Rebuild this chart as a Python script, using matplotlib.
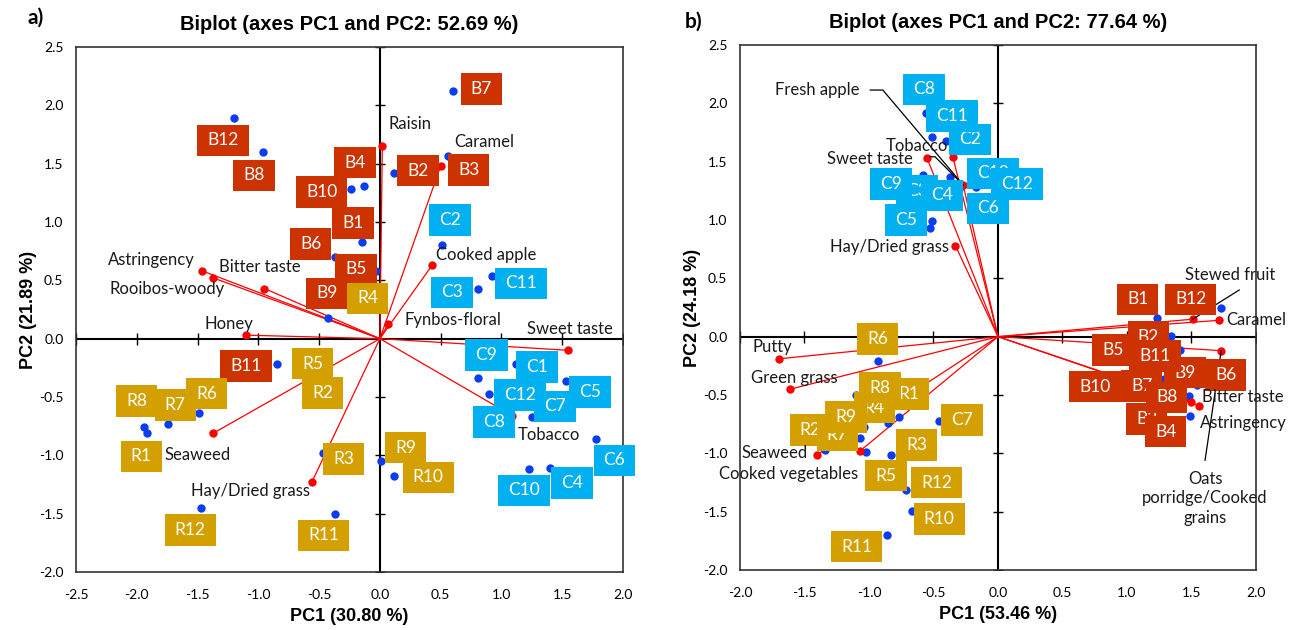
import matplotlib
matplotlib.use('Agg')
import matplotlib.pyplot as plt
from matplotlib.path import Path

# ------------------------------------------------------------------ data
# panel a) observations
obs_names_a = ['B1', 'B2', 'B3', 'B4', 'B5', 'B6', 'B7', 'B8', 'B9', 'B10', 'B11', 'B12',
               'C1', 'C2', 'C3', 'C4', 'C5', 'C6', 'C7', 'C8', 'C9', 'C10', 'C11', 'C12',
               'R1', 'R2', 'R3', 'R4', 'R5', 'R6', 'R7', 'R8', 'R9', 'R10', 'R11', 'R12']
obs_pc1_a = [-0.15, 0.12, 0.56, -0.13, -0.03, -0.37, 0.60, -0.96, -0.43, -0.24, -0.85, -1.20,
             1.12, 0.51, 0.81, 1.40, 1.53, 1.78, 1.25, 0.98, 0.81, 1.23, 0.92, 0.90,
             -1.92, -0.45, -0.47, -0.08, -0.50, -1.49, -1.74, -1.94, 0.01, 0.12, -0.37, -1.47]
obs_pc2_a = [0.83, 1.42, 1.57, 1.31, 0.58, 0.70, 2.12, 1.60, 0.18, 1.28, -0.22, 1.89,
             -0.22, 0.80, 0.43, -1.11, -0.36, -0.86, -0.67, -0.63, -0.34, -1.12, 0.54, -0.47,
             -0.81, -0.45, -0.98, 0.33, -0.22, -0.64, -0.73, -0.76, -1.05, -1.18, -1.50, -1.45]
# panel a) variables
var_names_a = ['Astringency', 'Rooibos-woody', 'Bitter taste', 'Honey', 'Raisin', 'Caramel',
               'Cooked apple', 'Fynbos-floral', 'Sweet taste', 'Tobacco', 'Seaweed',
               'Hay/Dried grass']
var_pc1_a = [-1.46, -1.37, -0.95, -1.10, 0.02, 0.50, 0.43, 0.07, 1.55, 1.09, -1.37, -0.56]
var_pc2_a = [0.58, 0.52, 0.43, 0.03, 1.65, 1.48, 0.63, 0.13, -0.10, -0.66, -0.81, -1.23]

# panel b) observations
obs_names_b = ['B1', 'B2', 'B3', 'B4', 'B5', 'B6', 'B7', 'B8', 'B9', 'B10', 'B11', 'B12',
               'C2', 'C3', 'C4', 'C5', 'C6', 'C7', 'C8', 'C9', 'C10', 'C11', 'C12',
               'R1', 'R2', 'R3', 'R4', 'R5', 'R6', 'R7', 'R8', 'R9', 'R10', 'R11', 'R12']
obs_group_b = ['B'] * 12 + ['C', 'C', 'C', 'C', 'C', 'R', 'C', 'C', 'C', 'C', 'C'] + ['R'] * 12
obs_pc1_b = [1.23, 1.34, 1.20, 1.49, 1.05, 1.62, 1.29, 1.48, 1.54, 0.95, 1.41, 1.73,
             -0.40, -0.53, -0.37, -0.51, -0.30, -0.46, -0.56, -0.58, -0.17, -0.51, 0.05,
             -0.77, -1.34, -0.83, -0.85, -1.02, -0.93, -1.07, -1.10, -1.04, -0.67, -0.86, -0.71]
obs_pc2_b = [0.16, 0.01, -0.62, -0.68, -0.10, -0.33, -0.36, -0.51, -0.41, -0.35, -0.11, 0.25,
             1.68, 0.93, 1.37, 0.99, 1.27, -0.72, 1.92, 1.39, 1.28, 1.71, 1.35,
             -0.69, -0.97, -1.01, -0.74, -0.99, -0.21, -0.87, -0.50, -0.77, -1.49, -1.70, -1.31]
# panel b) variables
var_names_b = ['Putty', 'Green grass', 'Seaweed', 'Cooked vegetables', 'Hay/Dried grass',
               'Sweet taste', 'Tobacco', 'Fresh apple', 'Stewed fruit', 'Caramel',
               'Oats\nporridge/Cooked\ngrains', 'Bitter taste', 'Astringency']
var_pc1_b = [-1.70, -1.61, -1.40, -1.07, -0.33, -0.55, -0.35, -0.27, 1.51, 1.71, 1.73, 1.50, 1.56]
var_pc2_b = [-0.19, -0.45, -1.01, -0.98, 0.78, 1.53, 1.54, 1.30, 0.15, 0.14, -0.12, -0.56, -0.59]

xticks_a = [-2.5, -2.0, -1.5, -1.0, -0.5, 0.0, 0.5, 1.0, 1.5, 2.0]
xticks_b = [-2.0, -1.5, -1.0, -0.5, 0.0, 0.5, 1.0, 1.5, 2.0]
yticks = [-2.0, -1.5, -1.0, -0.5, 0.0, 0.5, 1.0, 1.5, 2.0, 2.5]

title_a = 'Biplot (axes PC1 and PC2: 52.69 %)'
title_b = 'Biplot (axes PC1 and PC2: 77.64 %)'
xlabel_a, ylabel_a = 'PC1 (30.80 %)', 'PC2 (21.89 %)'
xlabel_b, ylabel_b = 'PC1 (53.46 %)', 'PC2 (24.18 %)'

# ------------------------------------------------------------------ layout / style
group_colors = {'B': '#CC3300', 'C': '#00B0F0', 'R': '#D4A000'}
POINT_BLUE = '#0A3CF0'
VAR_RED = '#FF0000'

obs_label_xy_a = {
    'B1': (-0.22, 0.99), 'B2': (0.315, 1.44), 'B3': (0.73, 1.446), 'B4': (-0.205, 1.51),
    'B5': (-0.195, 0.594), 'B6': (-0.57, 0.81), 'B7': (0.836, 2.14), 'B8': (-1.035, 1.40),
    'B9': (-0.438, 0.388), 'B10': (-0.479, 1.255), 'B11': (-1.10, -0.233), 'B12': (-1.29, 1.70),
    'C1': (1.293, -0.242), 'C2': (0.58, 1.017), 'C3': (0.597, 0.397), 'C4': (1.583, -1.238),
    'C5': (1.731, -0.457), 'C6': (1.93, -1.043), 'C7': (1.44, -0.58), 'C8': (0.937, -0.714),
    'C9': (0.877, -0.142), 'C10': (1.183, -1.30), 'C11': (1.159, 0.474), 'C12': (1.15, -0.485),
    'R1': (-1.964, -1.009), 'R2': (-0.471, -0.465), 'R3': (-0.298, -1.029), 'R4': (-0.10, 0.345),
    'R5': (-0.553, -0.213), 'R6': (-1.424, -0.471), 'R7': (-1.684, -0.571), 'R8': (-2.0, -0.534),
    'R9': (0.214, -0.934), 'R10': (0.397, -1.19), 'R11': (-0.46, -1.687), 'R12': (-1.561, -1.638),
}
var_label_a = {
    'Astringency': (-1.876, 0.674, 'center'), 'Rooibos-woody': (-1.753, 0.422, 'center'),
    'Bitter taste': (-0.986, 0.617, 'center'), 'Honey': (-1.238, 0.124, 'center'),
    'Raisin': (0.25, 1.84, 'center'), 'Caramel': (0.857, 1.684, 'center'),
    'Cooked apple': (0.877, 0.717, 'center'), 'Fynbos-floral': (0.60, 0.159, 'center'),
    'Sweet taste': (1.56, 0.084, 'center'), 'Tobacco': (1.389, -0.823, 'center'),
    'Seaweed': (-1.50, -0.994, 'center'), 'Hay/Dried grass': (-1.068, -1.306, 'center'),
}
obs_label_xy_b = {
    'B1': (1.083, 0.32), 'B2': (1.165, -0.005), 'B3': (1.153, -0.708), 'B4': (1.30, -0.814),
    'B5': (0.889, -0.114), 'B6': (1.765, -0.328), 'B7': (1.114, -0.422), 'B8': (1.307, -0.52),
    'B9': (1.45, -0.308), 'B10': (0.752, -0.428), 'B11': (1.217, -0.165), 'B12': (1.494, 0.32),
    'C2': (-0.217, 1.691), 'C3': (-0.63, 1.25), 'C4': (-0.436, 1.21), 'C5': (-0.715, 1.0),
    'C6': (-0.075, 1.10), 'C7': (-0.281, -0.714), 'C8': (-0.571, 2.12), 'C9': (-0.832, 1.309),
    'C10': (-0.04, 1.40), 'C11': (-0.357, 1.891), 'C12': (0.145, 1.31),
    'R1': (-0.695, -0.494), 'R2': (-1.457, -0.80), 'R3': (-0.63, -0.928), 'R4': (-0.959, -0.608),
    'R5': (-0.868, -1.191), 'R6': (-0.933, -0.02), 'R7': (-1.246, -0.842), 'R8': (-0.915, -0.437),
    'R9': (-1.178, -0.686), 'R10': (-0.457, -1.565), 'R11': (-1.095, -1.80), 'R12': (-0.475, -1.251),
}
var_label_b = {
    'Putty': (-1.747, -0.086, 'center'), 'Green grass': (-1.579, -0.351, 'center'),
    'Seaweed': (-1.729, -0.994, 'center'), 'Cooked vegetables': (-1.62, -1.177, 'center'),
    'Hay/Dried grass': (-0.842, 0.771, 'center'), 'Sweet taste': (-0.992, 1.52, 'center'),
    'Tobacco': (-0.63, 1.634, 'center'), 'Fresh apple': (-1.40, 2.114, 'center'),
    'Stewed fruit': (1.80, 0.529, 'center'), 'Caramel': (1.767, 0.143, 'left'),
    'Oats\nporridge/Cooked\ngrains': (1.605, -1.385, 'center'),
    'Bitter taste': (1.579, -0.52, 'left'), 'Astringency': (1.566, -0.737, 'left'),
}
# leader lines: anchor points near label -> target variable
leaders_b = [
    ([(-0.99, 2.114), (-0.893, 2.114)], 'Fresh apple'),
    ([(-0.527, 1.542), (-0.488, 1.542)], 'Fresh apple'),
    ([(1.87, 0.40)], 'Stewed fruit'),
    ([(1.605, -1.06)], 'Oats\nporridge/Cooked\ngrains'),
]

TXT_FONT = ['Lato', 'DejaVu Sans']
HEAD_FONT = ['Liberation Sans', 'DejaVu Sans']


def label_box(x0, y0, width, height, mutation_size):
    """Rectangular box with separate horizontal / vertical padding."""
    px, py = 0.58 * mutation_size, 0.45 * mutation_size
    x0, y0 = x0 - px, y0 - py
    x1, y1 = x0 + width + 2 * px, y0 + height + 2 * py
    return Path([(x0, y0), (x1, y0), (x1, y1), (x0, y1), (x0, y0)], closed=True)


fig = plt.figure(figsize=(12.92, 6.30), dpi=100)
ax_a = fig.add_axes([76 / 1292, 58 / 630, 547 / 1292, 525 / 630])
ax_b = fig.add_axes([740 / 1292, 60 / 630, 516 / 1292, 525 / 630])


def draw_panel(ax, names, pc1, pc2, groups, vnames, vpc1, vpc2, lab_xy, vlab, xt, xlim,
               title, xlabel, ylabel, leaders=()):
    ax.set_xlim(*xlim)
    ax.set_ylim(-2.0, 2.5)
    ax.axhline(0, color='black', lw=1.5, zorder=1.5)
    ax.axvline(0, color='black', lw=1.5, zorder=1.5)
    # tick marks along the zero lines
    ax.plot([t for t in xt if t != 0], [0] * (len(xt) - 1), ls='none', marker='|',
            ms=8, mew=1.0, color='black', zorder=1.6)
    ax.plot([0] * (len(yticks) - 1), [t for t in yticks if t != 0], ls='none', marker='_',
            ms=7, mew=1.0, color='black', zorder=1.6)
    # variable vectors
    for x, y in zip(vpc1, vpc2):
        ax.plot([0, x], [0, y], color=VAR_RED, lw=0.9, zorder=2)
    ax.scatter(pc1, pc2, s=36, color=POINT_BLUE, zorder=3, linewidths=0)
    ax.scatter(vpc1, vpc2, s=36, color=VAR_RED, zorder=3.2, linewidths=0)
    vdict = dict(zip(vnames, zip(vpc1, vpc2)))
    for anchors, target in leaders:
        xs = [p[0] for p in anchors] + [vdict[target][0]]
        ys = [p[1] for p in anchors] + [vdict[target][1]]
        ax.plot(xs, ys, color='black', lw=0.9, zorder=4)
    for n, g in zip(names, groups):
        lx, ly = lab_xy[n]
        ax.text(lx, ly, n, ha='center', va='center', color='white', fontsize=12.5,
                family=TXT_FONT, zorder=5,
                bbox=dict(boxstyle=label_box, fc=group_colors[g], ec='none'))
    for n in vnames:
        lx, ly, ha = vlab[n]
        ax.text(lx, ly, n, ha=ha, va='center', color='#1a1a1a', fontsize=12,
                family=TXT_FONT, zorder=6, clip_on=False, linespacing=1.25)
    ax.set_xticks(xt)
    ax.set_yticks(yticks)
    ax.set_xticklabels([f'{t:.1f}' for t in xt], family=TXT_FONT, fontsize=10)
    ax.set_yticklabels([f'{t:.1f}' for t in yticks], family=TXT_FONT, fontsize=10)
    ax.tick_params(axis='x', length=0, pad=12)
    ax.tick_params(axis='y', length=0, pad=9)
    for sp in ax.spines.values():
        sp.set_color('#333333')
        sp.set_linewidth(1.2)
    ax.set_title(title, fontsize=14.5, fontweight='bold', family=HEAD_FONT, pad=12)
    ax.set_xlabel(xlabel, fontsize=13, fontweight='bold', family=HEAD_FONT, labelpad=5)
    ax.set_ylabel(ylabel, fontsize=13, fontweight='bold', family=HEAD_FONT, labelpad=1)


draw_panel(ax_a, obs_names_a, obs_pc1_a, obs_pc2_a, [n[0] for n in obs_names_a],
           var_names_a, var_pc1_a, var_pc2_a, obs_label_xy_a, var_label_a,
           xticks_a, (-2.5, 2.0), title_a, xlabel_a, ylabel_a)
draw_panel(ax_b, obs_names_b, obs_pc1_b, obs_pc2_b, obs_group_b,
           var_names_b, var_pc1_b, var_pc2_b, obs_label_xy_b, var_label_b,
           xticks_b, (-2.0, 2.0), title_b, xlabel_b, ylabel_b, leaders_b)

fig.text(28 / 1292, 1 - 18 / 630, 'a)', fontsize=15, fontweight='bold', family=TXT_FONT,
         ha='left', va='center')
fig.text(685 / 1292, 1 - 22 / 630, 'b)', fontsize=15, fontweight='bold', family=TXT_FONT,
         ha='left', va='center')

fig.savefig('out.png', dpi=100)
